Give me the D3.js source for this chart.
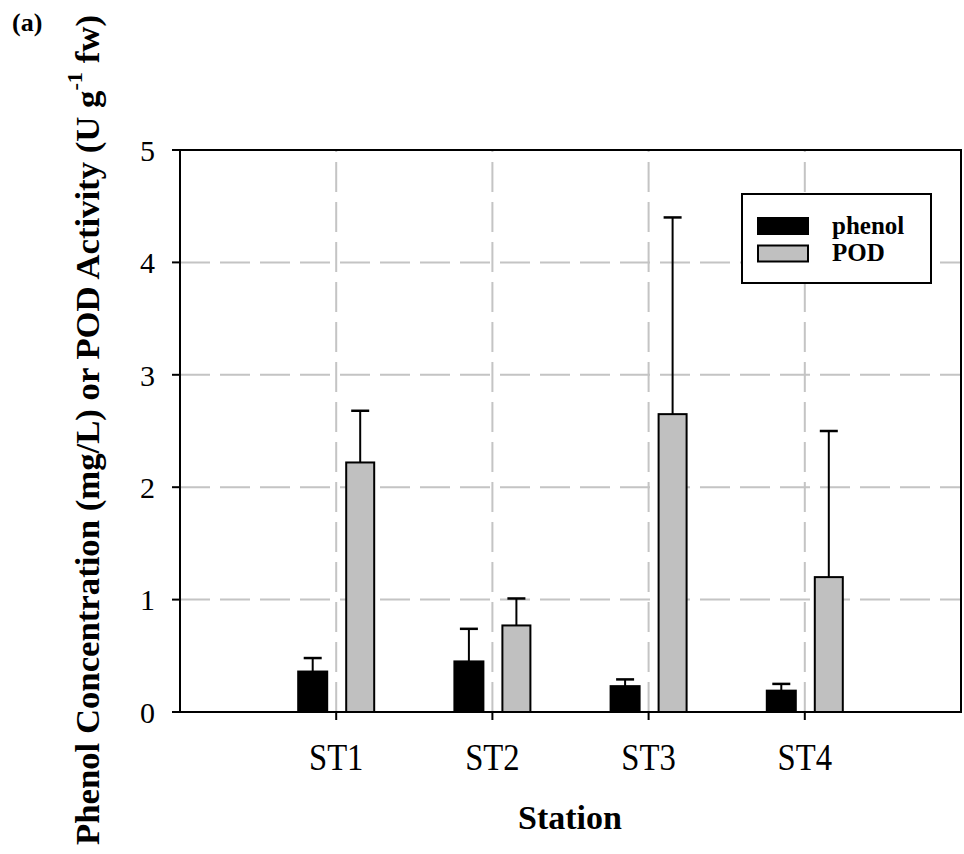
<!DOCTYPE html>
<html>
<head>
<meta charset="utf-8">
<script src="https://cdn.jsdelivr.net/npm/d3@7"></script>
<style>
  body { margin: 0; background: #fff; }
  text { font-family: "Liberation Serif", "Times New Roman", serif; fill: #000; }
</style>
</head>
<body>
<div id="chart"></div>
<script>
// data
var stations = ["ST1", "ST2", "ST3", "ST4"];
var phenol = [0.36, 0.45, 0.23, 0.19];
var phenolErr = [0.12, 0.29, 0.06, 0.06];
var pod = [2.22, 0.77, 2.65, 1.20];
var podErr = [0.46, 0.24, 1.75, 1.30];
var yTicks = [0, 1, 2, 3, 4, 5];
var gridY = [1, 2, 3, 4];

var W = 964, H = 854;
var margin = {top: 150, right: 3, bottom: 142, left: 180},
    width = W - margin.left - margin.right,
    height = H - margin.top - margin.bottom;

var svg = d3.select("#chart").append("svg")
    .attr("width", W)
    .attr("height", H);

var g = svg.append("g")
    .attr("transform", "translate(" + margin.left + "," + margin.top + ")");

// x: stations sit at 1..4 on a 0..5 axis
var x = d3.scaleLinear().domain([0, 5]).range([0, width]);
var y = d3.scaleLinear().domain([0, 5]).range([height, 0]);

// dashed grid
g.selectAll(".gy").data(gridY).enter().append("line")
    .attr("x1", 0).attr("x2", width)
    .attr("y1", d => y(d)).attr("y2", d => y(d))
    .attr("stroke", "#c4c4c4").attr("stroke-width", 2)
    .attr("stroke-dasharray", "30,10");

g.selectAll(".gx").data(stations).enter().append("line")
    .attr("x1", (d, i) => x(i + 1)).attr("x2", (d, i) => x(i + 1))
    .attr("y1", height).attr("y2", 0)
    .attr("stroke", "#c4c4c4").attr("stroke-width", 2)
    .attr("stroke-dasharray", "30,10");

// bars
var rows = stations.map(function(s, i) {
  return {i: i, phenol: phenol[i], pe: phenolErr[i], pod: pod[i], qe: podErr[i]};
});

function errBar(sel, cx, v, e) {
  sel.append("line")
    .attr("x1", cx).attr("x2", cx)
    .attr("y1", y(v)).attr("y2", y(v + e))
    .attr("stroke", "#000").attr("stroke-width", 2);
  sel.append("line")
    .attr("x1", cx - 9).attr("x2", cx + 9)
    .attr("y1", y(v + e)).attr("y2", y(v + e))
    .attr("stroke", "#000").attr("stroke-width", 2.5);
}

rows.forEach(function(d) {
  var cx = x(d.i + 1);
  var grp = g.append("g");
  // phenol
  grp.append("rect")
    .attr("x", cx - 38).attr("width", 29)
    .attr("y", y(d.phenol)).attr("height", height - y(d.phenol))
    .attr("fill", "#000").attr("stroke", "#000").attr("stroke-width", 2);
  errBar(grp, cx - 23.5, d.phenol, d.pe);
  // POD
  grp.append("rect")
    .attr("x", cx + 10).attr("width", 28)
    .attr("y", y(d.pod)).attr("height", height - y(d.pod))
    .attr("fill", "#c0c0c0").attr("stroke", "#000").attr("stroke-width", 2);
  errBar(grp, cx + 24, d.pod, d.qe);
});

// frame
g.append("rect")
    .attr("x", 0).attr("y", 0).attr("width", width).attr("height", height)
    .attr("fill", "none").attr("stroke", "#000").attr("stroke-width", 2);

// y axis ticks + labels
g.selectAll(".ytick").data(yTicks).enter().append("line")
    .attr("x1", -8).attr("x2", 0)
    .attr("y1", d => y(d)).attr("y2", d => y(d))
    .attr("stroke", "#000").attr("stroke-width", 2);
g.selectAll(".ylab").data(yTicks).enter().append("text")
    .attr("x", -25).attr("y", d => y(d))
    .attr("dy", "0.36em")
    .attr("text-anchor", "end")
    .style("font-size", "30px")
    .text(d => d);

// x axis ticks + labels
g.selectAll(".xtick").data(stations).enter().append("line")
    .attr("x1", (d, i) => x(i + 1)).attr("x2", (d, i) => x(i + 1))
    .attr("y1", height).attr("y2", height + 8)
    .attr("stroke", "#000").attr("stroke-width", 2);
g.selectAll(".xlab").data(stations).enter().append("text")
    .attr("transform", (d, i) => "translate(" + x(i + 1) + "," + (height + 58) + ") scale(0.86,1)")
    .attr("text-anchor", "middle")
    .style("font-size", "38px")
    .text(d => d);

// x title
svg.append("text")
    .attr("x", 570).attr("y", 829)
    .attr("text-anchor", "middle")
    .style("font-size", "34px").style("font-weight", "bold")
    .text("Station");

// y title, squeezed to the length it has in the figure
var yt = svg.append("g").attr("transform", "translate(99,430) rotate(-90)");
var ytText = yt.append("text")
    .attr("text-anchor", "middle")
    .style("font-size", "34px").style("font-weight", "bold");
ytText.append("tspan").text("Phenol Concentration (mg/L) or POD Activity (U g");
ytText.append("tspan").attr("dy", -17).style("font-size", "22px").text("-1");
ytText.append("tspan").attr("dy", 17).text(" fw)");
var tw = ytText.node().getComputedTextLength();
ytText.attr("transform", "scale(" + (830 / tw) + ",1)");

// panel label
svg.append("text")
    .attr("x", 12).attr("y", 31)
    .style("font-size", "26px").style("font-weight", "bold")
    .text("(a)");

// legend
var leg = svg.append("g");
leg.append("rect")
    .attr("x", 742).attr("y", 194).attr("width", 189).attr("height", 89)
    .attr("fill", "#fff").attr("stroke", "#000").attr("stroke-width", 2);
var legItems = [{name: "phenol", fill: "#000"}, {name: "POD", fill: "#c0c0c0"}];
legItems.forEach(function(d, i) {
  leg.append("rect")
    .attr("x", 758).attr("y", 218 + i * 27.5).attr("width", 50).attr("height", 16)
    .attr("fill", d.fill).attr("stroke", "#000").attr("stroke-width", 2);
  leg.append("text")
    .attr("x", 832).attr("y", 234 + i * 27)
    .style("font-size", "25px").style("font-weight", "bold")
    .text(d.name);
});
</script>
</body>
</html>
